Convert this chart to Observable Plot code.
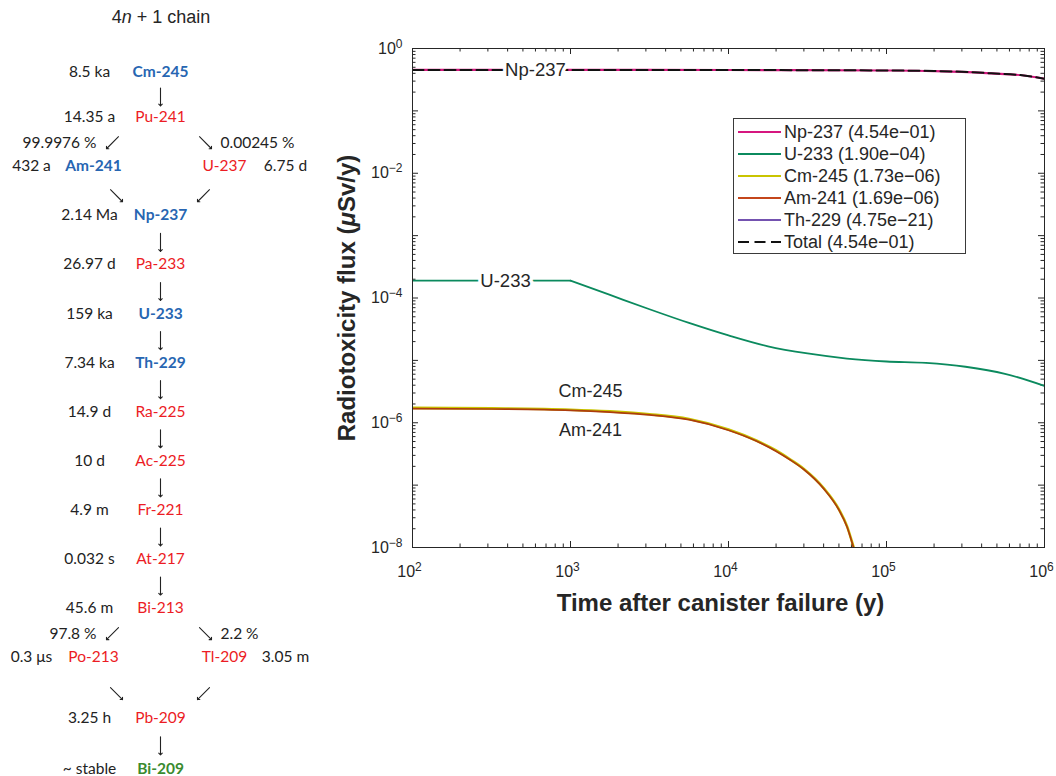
<!DOCTYPE html>
<html><head><meta charset="utf-8">
<script src="https://cdn.jsdelivr.net/npm/d3@7"></script>
<script src="https://cdn.jsdelivr.net/npm/@observablehq/plot@0.6"></script>
<style>
body{margin:0;background:#fff;}
#page{position:relative;width:1056px;height:776px;overflow:hidden;background:#fff;}
#left{position:absolute;left:0;top:0;width:330px;height:776px;}
#right{position:absolute;left:330px;top:0;width:726px;height:640px;}
#title{position:absolute;left:0;top:7px;width:322px;text-align:center;font:18px "Liberation Sans",Arial,sans-serif;color:#262626;}
.legend{position:absolute;left:403px;top:118px;width:231px;height:132px;border:1px solid #3a3a3a;background:#fff;padding-top:2px;font:18px "Liberation Sans",Arial,sans-serif;color:#262626;}
.legend .row{height:22px;display:flex;align-items:center;white-space:nowrap;}
.legend svg{flex:none;}
</style></head>
<body>
<div id="page">
  <div id="left"></div>
  <div id="title">4<i>n</i> + 1 chain</div>
  <div id="right"></div>
</div>
<script>
// ---------------- Decay chain data ----------------
const chainNuclides = ["Cm-245","Pu-241","Am-241","U-237","Np-237","Pa-233","U-233","Th-229","Ra-225","Ac-225","Fr-221","At-217","Bi-213","Po-213","Tl-209","Pb-209","Bi-209"];
const chainHalfLives = ["8.5 ka","14.35 a","432 a","6.75 d","2.14 Ma","26.97 d","159 ka","7.34 ka","14.9 d","10 d","4.9 m","0.032 s","45.6 m","0.3 μs","3.05 m","3.25 h","~ stable"];
const chainRow = [0,1,2,2,3,4,5,6,7,8,9,10,11,12,12,13,14];
const chainBranch = [0,0,-1,1,0,0,0,0,0,0,0,0,0,-1,1,0,0];
const chainKind = ["key","short","key","short","key","short","key","key","short","short","short","short","short","short","short","short","stable"];
const decayFrom = [0,1,1,2,3,4,5,6,7,8,9,10,11,12,12,13,14,15];
const decayTo   = [1,2,3,4,4,5,6,7,8,9,10,11,12,13,14,15,15,16];
const decayRatio = ["","99.9976 %","0.00245 %","","","","","","","","","","","97.8 %","2.2 %","","",""];

// ---------------- Radiotoxicity flux data ----------------
const npTime = [100, 1000, 10000, 30000, 100000, 200000, 300000, 460000, 740000, 1000000];
const npFlux = [0.454, 0.454, 0.452, 0.449, 0.444, 0.435, 0.423, 0.400, 0.369, 0.327];
const u233Time = [100, 1000, 1778, 3162, 5623, 10000, 17780, 31620, 56230, 100000, 177800, 316200, 562300, 1000000];
const u233Flux = [1.90e-4, 1.90e-4, 1.12e-4, 6.6e-5, 3.98e-5, 2.51e-5, 1.68e-5, 1.29e-5, 1.07e-5, 9.6e-6, 9.1e-6, 7.9e-6, 6.1e-6, 3.9e-6];
const cmTime = [100, 316, 1000, 1778, 3162, 5623, 10000, 15000, 20000, 24500, 30000, 40000, 50000, 56230, 62000, 70000, 80000];
const cmFlux = [1.73e-6, 1.70e-6, 1.62e-6, 1.52e-6, 1.37e-6, 1.15e-6, 7.8e-7, 5.2e-7, 3.6e-7, 2.6e-7, 1.82e-7, 9.0e-8, 4.1e-8, 2.2e-8, 1.0e-8, 3.5e-9, 1.1e-9];
const amTime = [100, 316, 1000, 1778, 3162, 5623, 10000, 15000, 20000, 24500, 30000, 40000, 50000, 56230, 62000, 70000, 80000];
const amFlux = [1.69e-6, 1.66e-6, 1.58e-6, 1.48e-6, 1.34e-6, 1.12e-6, 7.6e-7, 5.1e-7, 3.5e-7, 2.55e-7, 1.78e-7, 8.8e-8, 4.0e-8, 2.15e-8, 9.8e-9, 3.4e-9, 1.1e-9];
const thTime = [100, 10000, 1000000];
const thFlux = [1e-40, 1e-30, 4.75e-21];
const totalTime = [100, 1000, 10000, 30000, 100000, 200000, 300000, 460000, 740000, 1000000];
const totalFlux = [0.4542, 0.4542, 0.4520, 0.4490, 0.4440, 0.4350, 0.4230, 0.4000, 0.3690, 0.3270];

const seriesNames = ["Np-237","U-233","Cm-245","Am-241","Th-229","Total"];
const seriesColors = ["#d6177f","#0b8a5e","#c9c400","#c4461b","#7452b0","#111111"];
const seriesPeaks = [4.54e-1, 1.90e-4, 1.73e-6, 1.69e-6, 4.75e-21, 4.54e-1];

const lineLabelText = ["Np-237","U-233"];
const lineLabelTime = [600, 388];
const lineLabelFlux = [0.454, 1.90e-4];
const sideLabelText = ["Cm-245","Am-241"];
const sideLabelTime = [1340, 1340];
const sideLabelFlux = [3.22e-6, 7.55e-7];

const xMajor = [1e2,1e3,1e4,1e5,1e6];
const yLabelTicks = [1,1e-2,1e-4,1e-6,1e-8];
const xLabel = "Time after canister failure (y)";
const yLabel = "Radiotoxicity flux (μSv/y)";

// ---------------- Left: decay chain ----------------
const rowY = d3.scaleLinear().domain([0, 1, 12, 13, 14]).range([71.7, 116.7, 656.7, 717.3, 768.3]);
const chain = chainNuclides.map((n, i) => {
  const b = chainBranch[i];
  const nx = b === 0 ? 160 : b < 0 ? 93 : 224;
  const hx = b === 0 ? 89 : b < 0 ? nx - 62 : nx + 61;
  return {name: n, half: chainHalfLives[i], y: rowY(chainRow[i]), kind: chainKind[i], nx, hx};
});
const links = decayFrom.map((f, i) => {
  const t = decayTo[i], bf = chainBranch[f], bt = chainBranch[t];
  let x, r, rotate;
  if (bf === 0 && bt === 0) { x = 160; r = chainRow[f] + 0.55; rotate = 180; }
  else if (bf === 0 && bt < 0) { x = 112; r = chainRow[f] + 0.52; rotate = 225; }
  else if (bf === 0 && bt > 0) { x = 205; r = chainRow[f] + 0.52; rotate = 135; }
  else if (bf < 0) { x = 116; r = chainRow[f] + 0.6; rotate = 135; }
  else { x = 203; r = chainRow[f] + 0.6; rotate = 225; }
  return {x, y: rowY(r), rotate, ratio: decayRatio[i], side: bt < 0 ? "left" : bt > 0 ? "right" : "none"};
});
const kindColor = {key: "#2766b2", short: "#ec1c24", stable: "#3a8b2f"};

const diagram = Plot.plot({
  width: 330, height: 776, margin: 0,
  x: {type: "identity", axis: null},
  y: {type: "identity", axis: null},
  style: {fontFamily: "Lato, 'Open Sans', sans-serif", fontSize: "15.5px", background: "transparent", overflow: "visible"},
  marks: [
    Plot.text(chain, {x: "hx", y: "y", text: "half", fill: "#222"}),
    Plot.text(chain.filter(d => d.kind === "short"), {x: "nx", y: "y", text: "name", fill: d => kindColor[d.kind]}),
    Plot.text(chain.filter(d => d.kind !== "short"), {x: "nx", y: "y", text: "name", fill: d => kindColor[d.kind], fontWeight: "bold"}),
    Plot.vector(links.filter(d => d.rotate === 180), {x: "x", y: "y", rotate: "rotate", length: 18, anchor: "middle", r: 1.7, stroke: "#222", strokeWidth: 1.1}),
    Plot.vector(links.filter(d => d.rotate !== 180), {x: "x", y: "y", rotate: "rotate", length: 17, anchor: "middle", r: 1.7, stroke: "#222", strokeWidth: 1.1}),
    Plot.text(links.filter(d => d.side === "left" && d.ratio), {x: d => d.x - 16, y: "y", text: "ratio", textAnchor: "end", fill: "#222"}),
    Plot.text(links.filter(d => d.side === "right" && d.ratio), {x: d => d.x + 15, y: "y", text: "ratio", textAnchor: "start", fill: "#222"})
  ]
});
document.getElementById("left").appendChild(diagram);

// ---------------- Right: radiotoxicity plot ----------------
const W = 726, H = 640, mL = 82, mR = 12, mT = 48, mB = 93;
const pw = W - mL - mR, ph = H - mT - mB;
const rows = (t, v) => t.map((x, i) => ({t: x, v: v[i]}));
const yMajorAll = d3.range(-8, 1).map(e => Math.pow(10, e));
const yMinorAll = d3.range(-8, 0).flatMap(e => d3.range(2, 10).map(k => k * Math.pow(10, e)));
const xMinorAll = d3.range(2, 6).flatMap(e => d3.range(2, 10).map(k => k * Math.pow(10, e)));
const supFmt = d => { const e = Math.round(Math.log10(d)); return "10|" + (e < 0 ? "\u2212" + (-e) : String(e)); };
const ink = "#262626";
const lineOpts = (c, w) => ({x: "t", y: "v", stroke: c, strokeWidth: w, curve: "monotone-x", clip: true});
const lbl = (texts, times, fluxes) => texts.map((s, i) => ({s, t: times[i], v: fluxes[i]}));
const uRows = rows(u233Time, u233Flux);

const chart = Plot.plot({
  width: W, height: H,
  marginLeft: mL, marginRight: mR, marginTop: mT, marginBottom: mB,
  x: {type: "log", domain: [1e2, 1e6]},
  y: {type: "log", domain: [1e-8, 1]},
  style: {fontFamily: "'Liberation Sans', Arial, sans-serif", fontSize: "16px", color: ink, background: "transparent", overflow: "visible"},
  marks: [
    Plot.tickY(yMajorAll, {y: d => d, insetRight: pw - 6, stroke: ink}),
    Plot.tickY(yMinorAll, {y: d => d, insetRight: pw - 3.5, stroke: ink}),
    Plot.tickY(yMajorAll, {y: d => d, insetLeft: pw - 6, stroke: ink}),
    Plot.tickY(yMinorAll, {y: d => d, insetLeft: pw - 3.5, stroke: ink}),
    Plot.tickX(xMajor, {x: d => d, insetTop: ph - 6, stroke: ink}),
    Plot.tickX(xMinorAll, {x: d => d, insetTop: ph - 3.5, stroke: ink}),
    Plot.tickX(xMajor, {x: d => d, insetBottom: ph - 6, stroke: ink}),
    Plot.tickX(xMinorAll, {x: d => d, insetBottom: ph - 3.5, stroke: ink}),
    Plot.line(rows(thTime, thFlux), lineOpts(seriesColors[4], 1.8)),
    Plot.line(rows(cmTime, cmFlux), lineOpts(seriesColors[2], 2.6)),
    Plot.line(rows(amTime, amFlux), lineOpts("#ad3c0d", 1.7)),
    Plot.line(uRows.slice(0, 2), {...lineOpts(seriesColors[1], 1.8), curve: "linear"}),
    Plot.line(uRows.slice(1), lineOpts(seriesColors[1], 1.8)),
    Plot.line(rows(npTime, npFlux), lineOpts(seriesColors[0], 2.2)),
    Plot.line(rows(totalTime, totalFlux), {...lineOpts("#111", 2), strokeDasharray: "11,5"}),
    Plot.text(lbl(lineLabelText, lineLabelTime, lineLabelFlux), {x: "t", y: "v", text: "s", fontSize: 18.5, fill: "white", stroke: "white", strokeWidth: 7}),
    Plot.text(lbl(lineLabelText, lineLabelTime, lineLabelFlux), {x: "t", y: "v", text: "s", fontSize: 18.5, fill: ink}),
    Plot.text(lbl(sideLabelText, sideLabelTime, sideLabelFlux), {x: "t", y: "v", text: "s", fontSize: 18, fill: ink}),
    Plot.frame({stroke: ink}),
    Plot.axisY({ticks: yLabelTicks, tickSize: 0, tickPadding: 10, tickFormat: supFmt, label: null}),
    Plot.axisX({ticks: xMajor, tickSize: 0, tickPadding: 18, tickFormat: supFmt, label: null, dx: -3}),
    Plot.text([xLabel], {frameAnchor: "bottom", lineAnchor: "middle", textAnchor: "middle", dy: 56, dx: -8, fontSize: 24, fontWeight: "bold", fill: ink}),
    Plot.text([yLabel], {frameAnchor: "left", lineAnchor: "middle", textAnchor: "middle", dx: -65, rotate: -90, fontSize: 24, fontWeight: "bold", fill: ink})
  ]
});

// superscript exponents in tick labels
chart.querySelectorAll('g[aria-label$="tick label"] text').forEach(t => {
  const s = t.textContent;
  if (!s.includes("|")) return;
  const [base, exp] = s.split("|");
  t.textContent = base;
  const ts = document.createElementNS("http://www.w3.org/2000/svg", "tspan");
  ts.setAttribute("dy", "-0.5em");
  ts.setAttribute("font-size", "12");
  ts.textContent = exp;
  t.appendChild(ts);
});
// italic mu in y label
chart.querySelectorAll("text").forEach(t => {
  if (t.textContent === yLabel) {
    const [a, b] = yLabel.split("μ");
    t.textContent = a;
    const mu = document.createElementNS("http://www.w3.org/2000/svg", "tspan");
    mu.setAttribute("font-style", "italic");
    mu.textContent = "μ";
    const rest = document.createElementNS("http://www.w3.org/2000/svg", "tspan");
    rest.textContent = b;
    t.appendChild(mu); t.appendChild(rest);
  }
});
document.getElementById("right").appendChild(chart);

// legend
const fmtPeak = v => { const [m, e] = v.toExponential(2).split("e"); const n = +e; return m + "e" + (n < 0 ? "\u2212" : "+") + String(Math.abs(n)).padStart(2, "0"); };
const legend = document.createElement("div");
legend.className = "legend";
seriesNames.forEach((name, i) => {
  const row = document.createElement("div");
  row.className = "row";
  const dash = name === "Total" ? ' stroke-dasharray="11,5.5"' : "";
  row.innerHTML = `<svg width="50" height="22"><line x1="4" x2="47" y1="11" y2="11" stroke="${seriesColors[i]}" stroke-width="2"${dash}/></svg><span>${name} (${fmtPeak(seriesPeaks[i])})</span>`;
  legend.appendChild(row);
});
document.getElementById("right").appendChild(legend);
</script>
</body></html>
